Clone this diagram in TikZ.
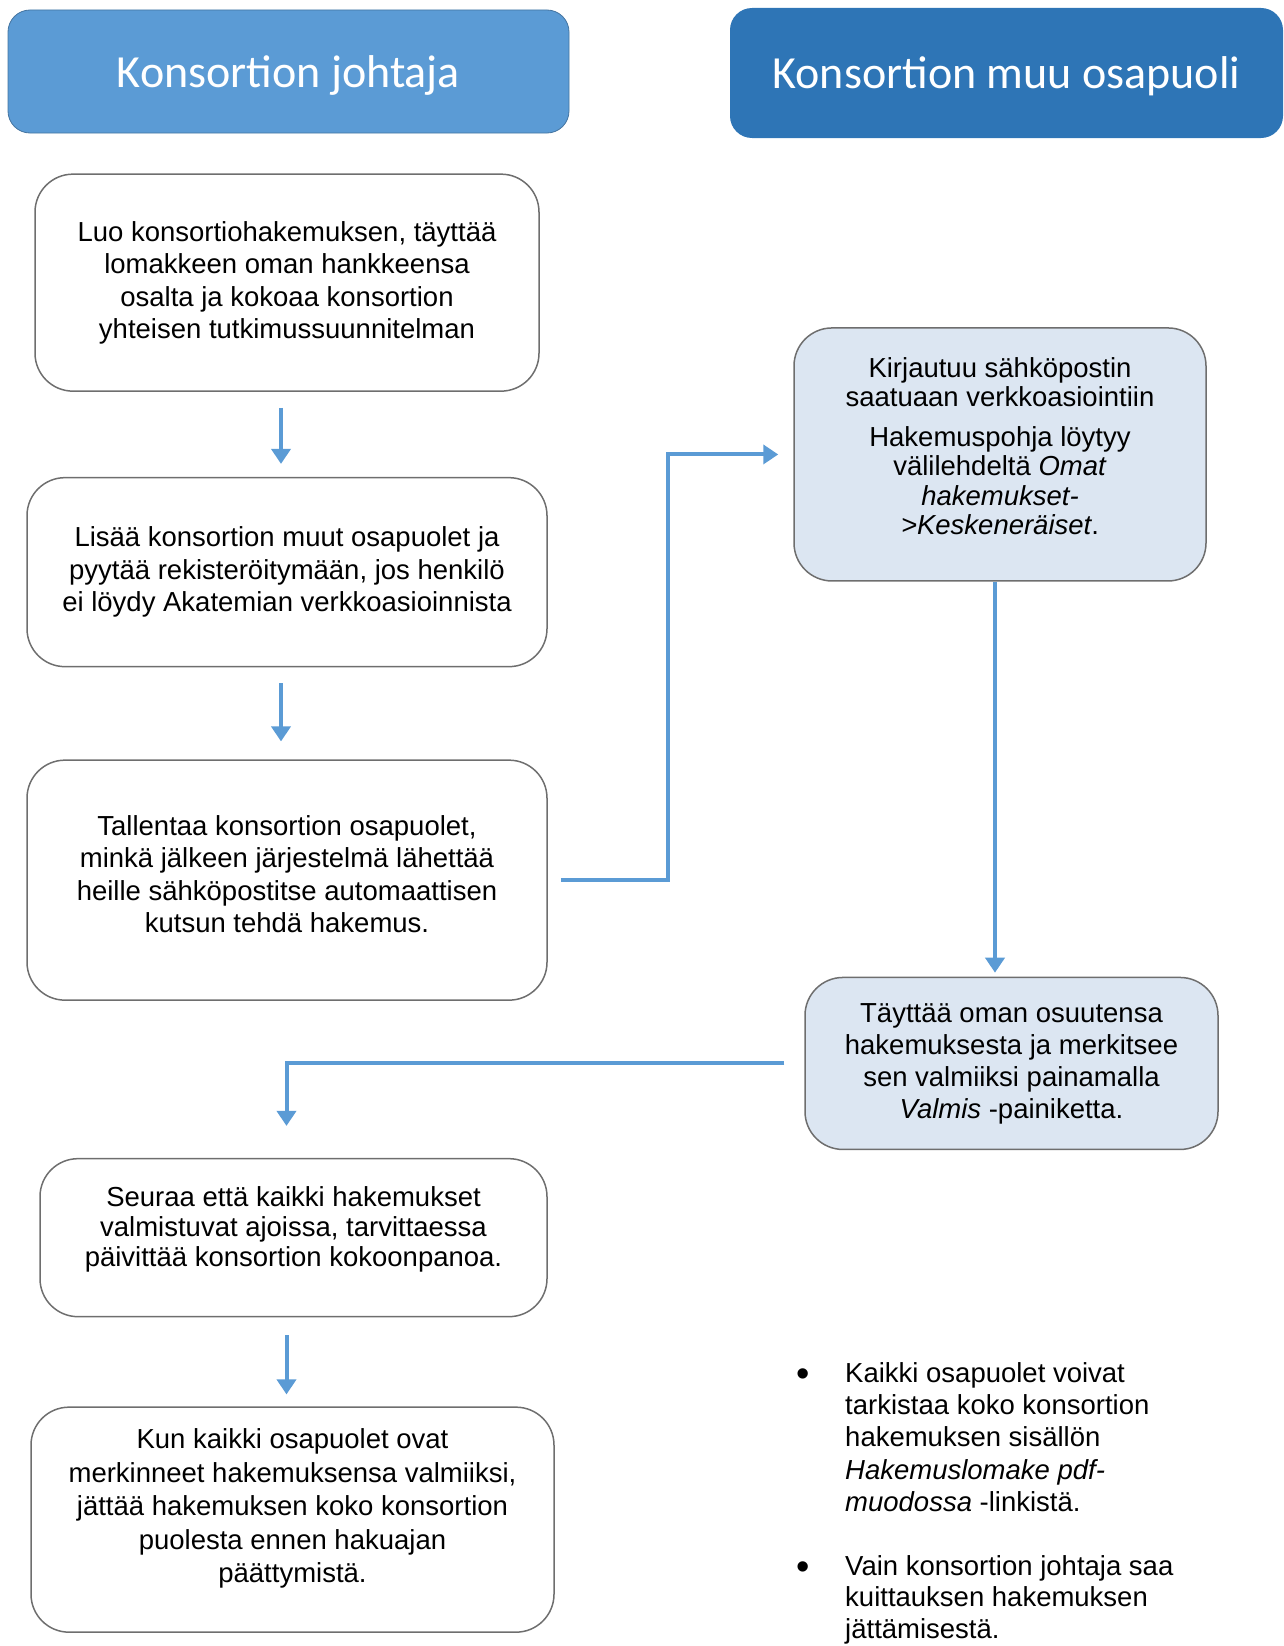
\documentclass[tikz,border=0pt]{standalone}
\usepackage{fontspec}
\setmainfont{Liberation Sans}
\newfontfamily\headfont{Carlito}
\usetikzlibrary{positioning, arrows.meta}
\definecolor{headleft}{HTML}{5B9BD5}
\definecolor{headright}{HTML}{2E75B6}
\definecolor{boxfill}{HTML}{DCE6F2}
\definecolor{boxline}{HTML}{6E6E6E}
\definecolor{arrowblue}{HTML}{5B9BD5}
\tikzstyle{arrow} = [line width=4pt, draw=arrowblue, -{Triangle[width=19pt,length=15pt]}]
\tikzstyle{header} = [rectangle, rounded corners=22pt, text=white, text depth=0pt, font=\headfont\fontsize{46}{55}\selectfont]
\tikzstyle{process} = [rectangle, rounded corners=38pt, draw=boxline, line width=1.5pt, align=center, font=\fontsize{27.5}{32.5}\selectfont]
\tikzstyle{subprocess} = [process, fill=boxfill]
\tikzstyle{note} = [align=left, inner sep=0pt, font=\fontsize{27.5}{32.3}\selectfont]

\begin{document}
\begin{tikzpicture}[x=1pt, y=-1pt]
\useasboundingbox (0,0) rectangle (1283,1646);
% Column headers
\node (leader) [header, fill=headleft, draw=headleft!75!black, line width=0.8pt, minimum width=561pt, minimum height=123pt] at (288.5,71.5) {Konsortion johtaja};
\node (partner) [header, fill=headright, minimum width=553pt, minimum height=130pt] at (1006.5,73) {Konsortion muu osapuoli};

% Leader column
\node (create) [process, minimum width=504pt, minimum height=217pt, below=40pt of leader, xshift=-1.5pt] {Luo konsortiohakemuksen, täyttää\\lomakkeen oman hankkeensa\\osalta ja kokoaa konsortion\\yhteisen tutkimussuunnitelman};
\node (invite) [process, minimum width=520pt, minimum height=189pt, below=85pt of create] {Lisää konsortion muut osapuolet ja\\pyytää rekisteröitymään, jos henkilö\\ei löydy Akatemian verkkoasioinnista};
\node (save) [process, text depth=12pt, minimum width=520pt, minimum height=240pt, below=92pt of invite] {Tallentaa konsortion osapuolet,\\minkä jälkeen järjestelmä lähettää\\heille sähköpostitse automaattisen\\kutsun tehdä hakemus.};
\node (follow) [process, text depth=22pt, font=\fontsize{27.5}{30}\selectfont, minimum width=507pt, minimum height=158pt, below=157pt of save, xshift=6.5pt] {Seuraa että kaikki hakemukset\\valmistuvat ajoissa, tarvittaessa\\päivittää konsortion kokoonpanoa.};
\node (submit) [process, text depth=28pt, font=\fontsize{27.5}{33.5}\selectfont, minimum width=523pt, minimum height=225pt, below=89pt of follow, xshift=-1pt] {Kun kaikki osapuolet ovat\\merkinneet hakemuksensa valmiiksi,\\jättää hakemuksen koko konsortion\\puolesta ennen hakuajan\\päättymistä.};

% Partner column
\node (login) [subprocess, text depth=17pt, font=\fontsize{27.5}{29.5}\selectfont, minimum width=412pt, minimum height=253pt, below=189pt of partner, xshift=-6.5pt] {Kirjautuu sähköpostin\\saatuaan verkkoasiointiin\\[10pt]Hakemuspohja löytyy\\välilehdeltä \textit{Omat}\\\textit{hakemukset-}\\\textit{>Keskeneräiset}.};
\node (complete) [subprocess, font=\fontsize{27.5}{32}\selectfont, minimum width=413pt, minimum height=172pt, below=395pt of login, xshift=11.5pt] {Täyttää oman osuutensa\\hakemuksesta ja merkitsee\\sen valmiiksi painamalla\\\textit{Valmis} -painiketta.};

% Notes
\node (dot1) [note, font=\fontsize{38}{38}\selectfont] at (803,1378) {\textbullet};
\node (note1) [note, anchor=north west] at (845,1362) {Kaikki osapuolet voivat\\tarkistaa koko konsortion\\hakemuksen sisällön\\\textit{Hakemuslomake pdf-}\\\textit{muodossa} -linkistä.};
\node (dot2) [note, font=\fontsize{38}{38}\selectfont] at (803,1571) {\textbullet};
\node (note2) [note, font=\fontsize{27.5}{31.5}\selectfont, anchor=north west] at (845,1555) {Vain konsortion johtaja saa\\kuittauksen hakemuksen\\jättämisestä.};

% Connectors
\draw [arrow, shorten <=16pt, shorten >=13pt] ([xshift=-6pt]create.south) -- ([xshift=-6pt]invite.north);
\draw [arrow, shorten <=16pt, shorten >=18pt] ([xshift=-6pt]invite.south) -- ([xshift=-6pt]save.north);
\draw [arrow, shorten <=13pt, shorten >=15pt] (save.east) -- ++(120,0) |- (login.west);
\draw [arrow, shorten >=4pt] ([xshift=-5pt]login.south) -- ([xshift=-5pt]login.south |- complete.north);
\draw [arrow, shorten <=20pt, shorten >=32pt] (complete.west) -| ([xshift=-7pt]follow.north);
\draw [arrow, shorten <=18pt, shorten >=12pt] ([xshift=-7pt]follow.south) -- ([xshift=-7pt]follow.south |- submit.north);
\end{tikzpicture}
\end{document}
